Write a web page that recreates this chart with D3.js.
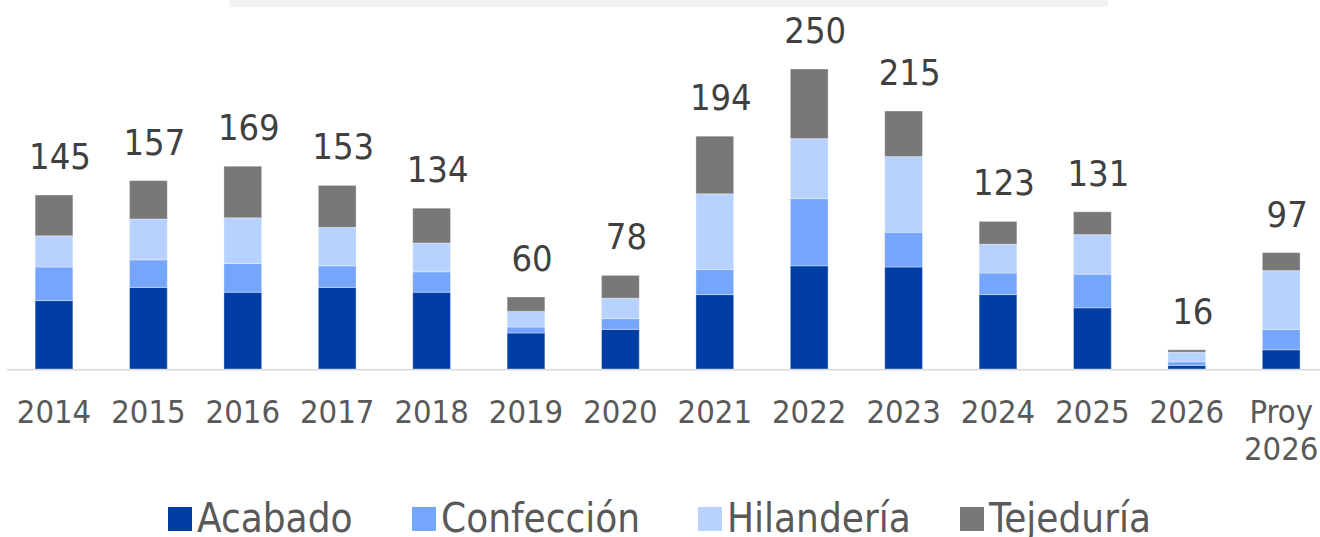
<!DOCTYPE html>
<html>
<head>
<meta charset="utf-8">
<script src="https://cdn.jsdelivr.net/npm/d3@7/dist/d3.min.js"></script>
<style>
  html, body { margin: 0; padding: 0; background: #ffffff; }
  svg { display: block; }
  text { font-family: "DejaVu Sans Condensed", "DejaVu Sans", sans-serif; font-stretch: condensed; }
</style>
</head>
<body>
<svg id="chart" width="1320" height="537"></svg>
<script>
const categories = ["2014","2015","2016","2017","2018","2019","2020","2021","2022","2023","2024","2025","2026","Proy 2026"];
const acabado    = [57, 68, 64, 68, 64, 30, 33, 62, 86, 85, 62, 51, 3, 16];
const confeccion = [28, 23, 24, 18, 17,  5,  9, 21, 56, 29, 18, 28, 3, 17];
const hilanderia = [26, 34, 38, 32, 24, 13, 17, 63, 50, 63, 24, 33, 8, 49];
const tejeduria  = [34, 32, 43, 35, 29, 12, 19, 48, 58, 38, 19, 19, 2, 15];
const totals     = [145, 157, 169, 153, 134, 60, 78, 194, 250, 215, 123, 131, 16, 97];
const seriesNames = ["Acabado", "Confección", "Hilandería", "Tejeduría"];
const seriesColors = ["#003DA5", "#76A5FC", "#B7D2FE", "#787878"];

const svg = d3.select("#chart");

// top grey band (title area remnant)
svg.append("rect").attr("x", 229).attr("y", 0).attr("width", 879).attr("height", 7).attr("fill", "#f2f2f2");

const table = categories.map((c, i) => ({
  cat: c, "Acabado": acabado[i], "Confección": confeccion[i], "Hilandería": hilanderia[i], "Tejeduría": tejeduria[i], total: totals[i]
}));

const x = d3.scaleBand().domain(categories).range([6.8, 1328.4]).paddingInner(0.6).paddingOuter(0.3);
const y = d3.scaleLinear().domain([0, 250]).range([369, 69]);

const stack = d3.stack().keys(seriesNames)(table);

svg.append("g").selectAll("g").data(stack).join("g")
  .attr("fill", (d, i) => seriesColors[i])
  .selectAll("rect").data(d => d).join("rect")
  .attr("x", d => x(d.data.cat))
  .attr("width", x.bandwidth())
  .attr("y", d => y(d[1]))
  .attr("height", d => y(d[0]) - y(d[1]))
  .attr("stroke", "#ffffff").attr("stroke-opacity", 0.35).attr("stroke-width", 1);

// baseline
svg.append("line").attr("x1", 7).attr("x2", 1320).attr("y1", 369.75).attr("y2", 369.75)
  .attr("stroke", "#d9d9d9").attr("stroke-width", 1.5);

// total labels
svg.append("g").selectAll("text").data(table).join("text")
  .attr("x", d => x(d.cat) + x.bandwidth() / 2 + 6)
  .attr("y", d => y(d.total) - 26)
  .attr("text-anchor", "middle")
  .attr("font-size", 36)
  .attr("fill", "#404040")
  .text(d => d.total);

// x axis labels
const xAxis = d3.axisBottom(x).tickSize(0).tickPadding(0);
const gx = svg.append("g").call(xAxis);
gx.select(".domain").remove();
gx.selectAll(".tick text").remove();
gx.selectAll(".tick").each(function(d) {
  const t = d3.select(this).append("text")
    .attr("text-anchor", "middle")
    .attr("font-size", 32.5)
    .attr("fill", "#595959");
  const parts = d.split(" ");
  parts.forEach((p, k) => {
    t.append("tspan").attr("x", 0).attr("y", 423 + k * 37).text(p);
  });
});

// legend
const legendX = [168, 412, 698, 960];
const legend = svg.append("g");
seriesNames.forEach((name, i) => {
  const g = legend.append("g").attr("transform", `translate(${legendX[i]},0)`);
  g.append("rect").attr("x", 0).attr("y", 507).attr("width", 24).attr("height", 24).attr("fill", seriesColors[i]);
  g.append("text").attr("x", 29).attr("y", 532).attr("font-size", 40).attr("fill", "#595959").text(name);
});
</script>
</body>
</html>
